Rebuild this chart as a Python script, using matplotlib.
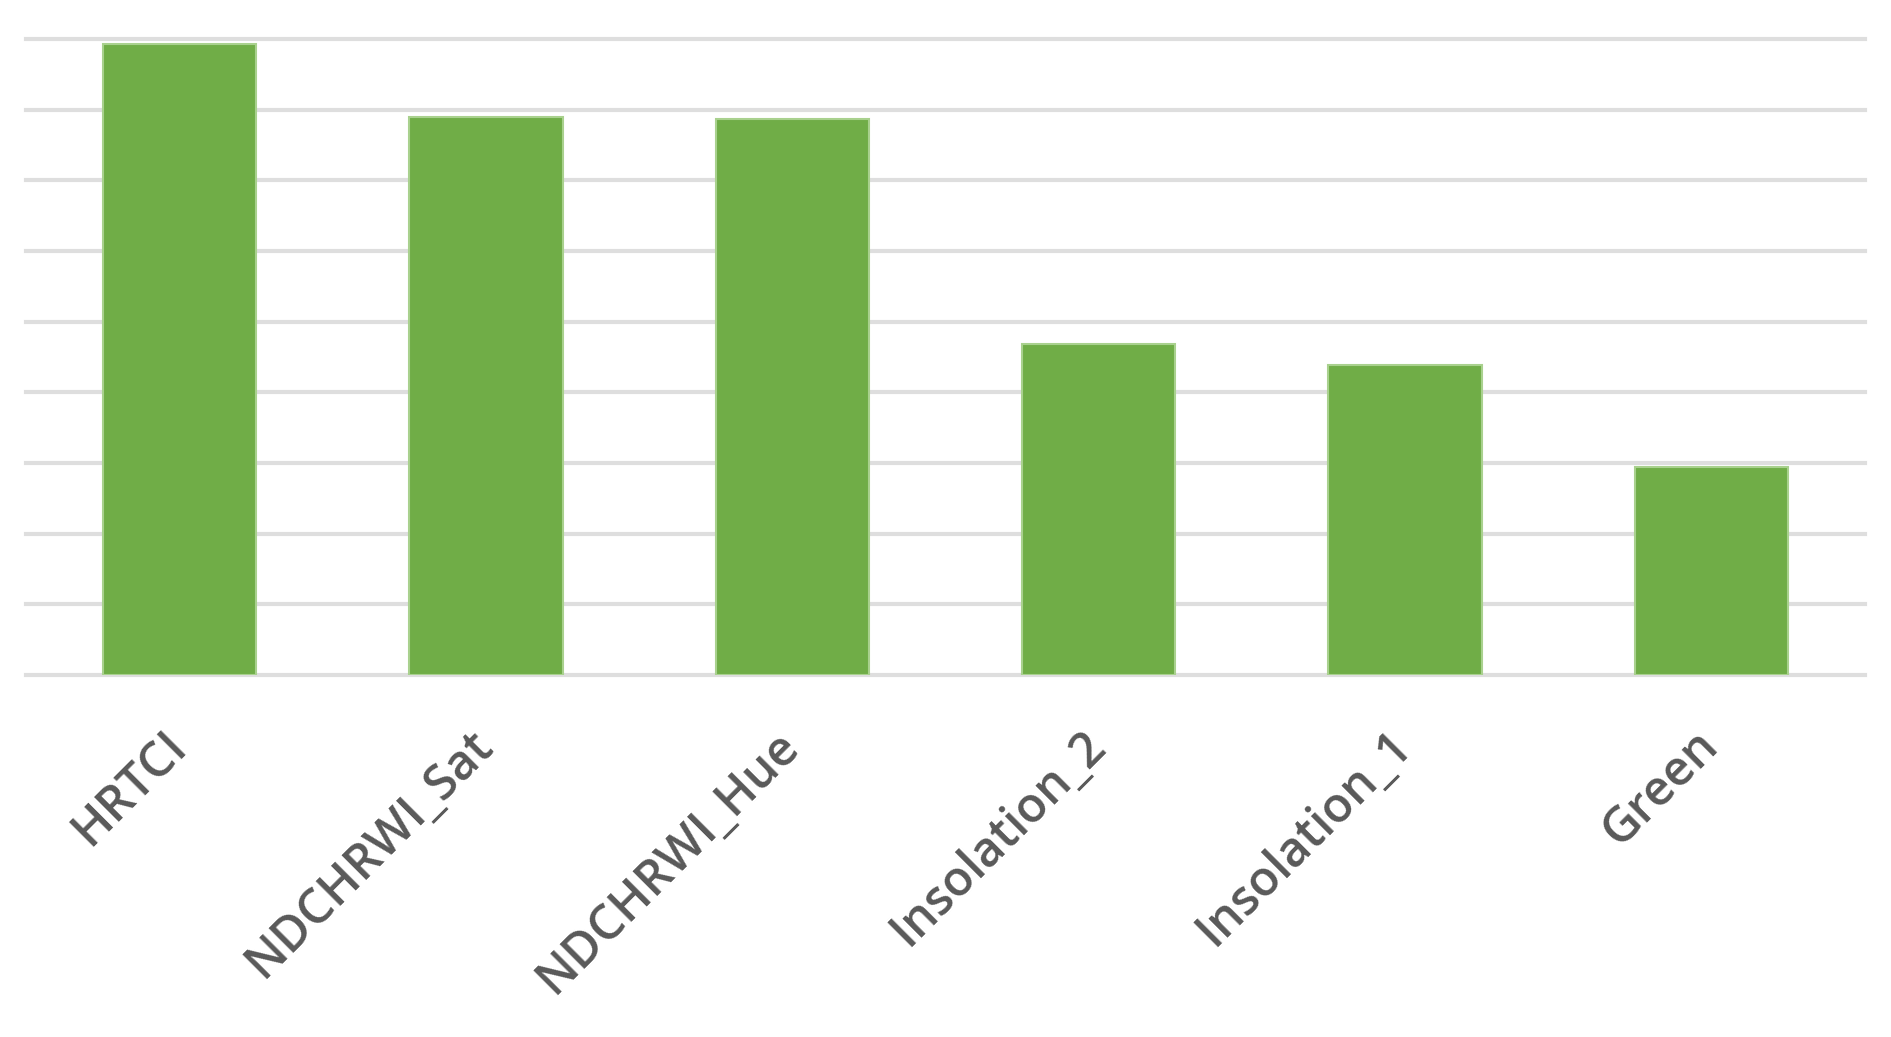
import matplotlib
matplotlib.use("Agg")
import matplotlib.pyplot as plt
import numpy as np

# 数据（从图上读取，纵轴无刻度值）
categories = ["HRTCI", "NDCHRWI_Sat", "NDCHRWI_Hue", "Insolation_2", "Insolation_1", "Green"]
values = [8.93, 7.90, 7.87, 4.68, 4.39, 2.94]
grid_levels = list(range(10))

plt.rcParams["font.family"] = ["Open Sans", "DejaVu Sans"]

fig = plt.figure(figsize=(18.91, 10.37), dpi=100)
ax = fig.add_axes([0.014, 0.349, 0.972, 0.6168])

x = np.arange(len(categories))
ax.bar(x, values, width=0.5, color="#70AD47", edgecolor="#A9D18E", linewidth=1.5, zorder=3)

# 网格线
for g in grid_levels:
    ax.axhline(g, color="#DEDEDE", linewidth=3, zorder=1, clip_on=False)

ax.set_xlim(-0.5, len(categories) - 0.5)
ax.set_ylim(0, 9.05)
ax.set_yticks([])
for s in ax.spines.values():
    s.set_visible(False)

ax.set_xticks(x)
ax.set_xticklabels(categories, rotation=45, ha="right", va="center",
                   rotation_mode="anchor", fontsize=35, fontweight="semibold",
                   color="#595959")
ax.tick_params(axis="x", length=0, pad=46)

fig.savefig("out.png", dpi=100)
